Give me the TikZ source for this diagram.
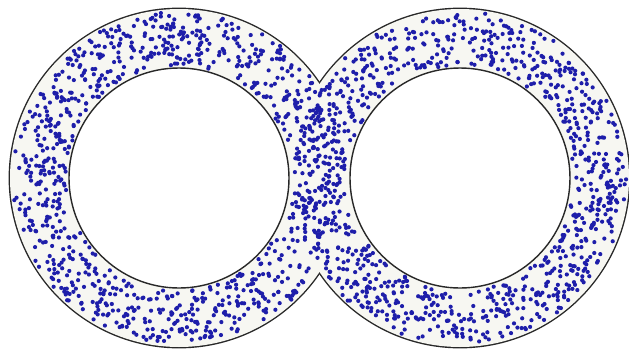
\documentclass[tikz,border=0pt]{standalone}
\usepackage{tikz}
\definecolor{dotblue}{RGB}{30,30,170}
\definecolor{ringfill}{RGB}{247,247,242}
\definecolor{ringline}{RGB}{40,40,40}

\begin{document}
\begin{tikzpicture}[
    x=0.25cm, y=-0.25cm,
    outerline/.style={draw=ringline, line width=2pt},
    ring/.style={fill=ringfill},
    hole/.style={fill=white, draw=ringline, line width=1pt},
    speck/.style={fill=dotblue}
  ]
  \useasboundingbox (0,0) rectangle (62.9,35.2);
  \pgfmathsetseed{11}

  %% Centres of the two rings (units of 10px)
  \coordinate (L) at (17.9,17.8);
  \coordinate (R) at (46.0,17.8);

  %% Outer boundary of the union
  \draw[outerline] (L) circle[radius=16.9];
  \draw[outerline] (R) circle[radius=16.9];
  \fill[ring] (L) circle[radius=16.9];
  \fill[ring] (R) circle[radius=16.9];

  %% Random specks in each ring (thinned where the rings overlap)
  \foreach \cx in {17.9,46.0} {
    \foreach \i in {1,...,1000} {
      \pgfmathsetmacro{\ang}{360*rnd}
      \pgfmathsetmacro{\rad}{sqrt(127.69+148.84*rnd)}
      \pgfmathsetmacro{\px}{\cx+\rad*cos(\ang)}
      \pgfmathsetmacro{\py}{17.8+\rad*sin(\ang)}
      \pgfmathtruncatemacro{\keep}{(\cx>30)&&(veclen(\px-17.9,\py-17.8)<16.9)&&(rnd<0.55)?0:1}
      \ifnum\keep=1
        \fill[speck] (\px,\py) circle[radius=0.21];
      \fi
    }
  }

  %% Holes
  \draw[hole] (L) circle[radius=11.0];
  \draw[hole] (R) circle[radius=11.0];

\end{tikzpicture}
\end{document}
